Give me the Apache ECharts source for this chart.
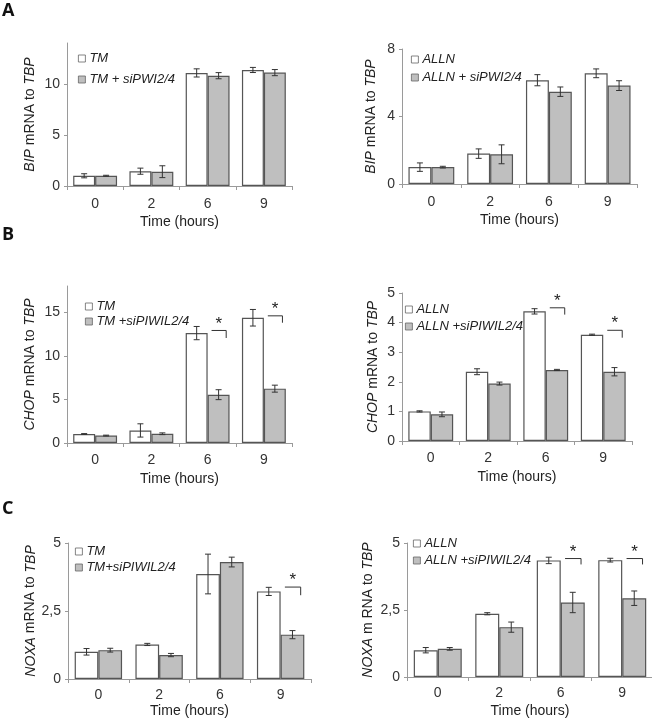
<!DOCTYPE html>
<html>
<head>
<meta charset="utf-8">
<script src="https://cdn.jsdelivr.net/npm/echarts@6/dist/echarts.min.js"></script>
<style>
html,body{margin:0;padding:0;background:#fff;}
#chart{width:652px;height:721px;}
</style>
</head>
<body>
<div id="chart"></div>
<script>
// ---------- data ----------
const categories = ['0', '2', '6', '9'];

// Panel A (BIP)
const bipTMName = 'TM';
const bipTMsiName = 'TM + siPWI2/4';
const bipTM = [1.0, 1.45, 11.07, 11.36];
const bipTMErr = [0.2, 0.3, 0.4, 0.25];
const bipTMsi = [1.0, 1.4, 10.8, 11.1];
const bipTMsiErr = [0.05, 0.58, 0.3, 0.3];

const bipALLNName = 'ALLN';
const bipALLNsiName = 'ALLN + siPWI2/4';
const bipALLN = [1.0, 1.8, 6.15, 6.56];
const bipALLNErr = [0.25, 0.28, 0.33, 0.26];
const bipALLNsi = [1.0, 1.76, 5.47, 5.83];
const bipALLNsiErr = [0.05, 0.56, 0.28, 0.29];

// Panel B (CHOP)
const chopTMName = 'TM';
const chopTMsiName = 'TM +siPIWIL2/4';
const chopTM = [1.03, 1.44, 12.6, 14.36];
const chopTMErr = [0.05, 0.76, 0.76, 0.95];
const chopTMsi = [0.85, 1.06, 5.54, 6.23];
const chopTMsiErr = [0.05, 0.1, 0.57, 0.4];
const chopTMSig = [[2, 12.9, 12.04], [3, 14.58, 13.79]];

const chopALLNName = 'ALLN';
const chopALLNsiName = 'ALLN +siPIWIL2/4';
const chopALLN = [1.0, 2.34, 4.38, 3.59];
const chopALLNErr = [0.02, 0.1, 0.09, 0.02];
const chopALLNsi = [0.9, 1.94, 2.4, 2.34];
const chopALLNsiErr = [0.08, 0.05, 0.02, 0.14];
const chopALLNSig = [[2, 4.5, 4.27], [3, 3.74, 3.49]];

// Panel C (NOXA)
const noxaTMName = 'TM';
const noxaTMsiName = 'TM+siPIWIL2/4';
const noxaTM = [1.0, 1.27, 3.86, 3.22];
const noxaTMErr = [0.12, 0.04, 0.73, 0.15];
const noxaTMsi = [1.06, 0.88, 4.3, 1.63];
const noxaTMsiErr = [0.07, 0.06, 0.18, 0.15];
const noxaTMSig = [[3, 3.38, 3.08]];

const noxaALLNName = 'ALLN';
const noxaALLNsiName = 'ALLN +siPIWIL2/4';
const noxaALLN = [1.0, 2.36, 4.35, 4.36];
const noxaALLNErr = [0.1, 0.04, 0.12, 0.07];
const noxaALLNsi = [1.05, 1.86, 2.78, 2.94];
const noxaALLNsiErr = [0.05, 0.19, 0.38, 0.27];
const noxaALLNSig = [[2, 4.42, 4.2], [3, 4.42, 4.2]];

// y-axis tick labels
const yTicksA1 = [0, 5, 10];
const yTicksA2 = [0, 4, 8];
const yTicksB1 = [0, 5, 10, 15];
const yTicksB2 = [0, 1, 2, 3, 4, 5];
const yTicksC = [0, 2.5, 5];

// ---------- styling / layout ----------
const FONT = '"Liberation Sans", Arial, sans-serif';
const AXIS_COLOR = '#9a9a9a';
const BORDER = '#555';
const WHITE = '#ffffff';
const GRAY = '#bfbfbf';
const ERR_COLOR = '#333';
const BAR_FRAC = 0.39;

const panels = [
  { grid: {left: 67, top: 43, width: 225, height: 143}, max: 14, ticks: yTicksA1, yName: '{i|BIP} mRNA to {i|TBP}', yGap: 30,
    names: [bipTMName, bipTMsiName], vals: [bipTM, bipTMsi], errs: [bipTMErr, bipTMsiErr], sig: [],
    legend: {left: 78, top: 52, itemGap: 8}, xGap: 29, xMargin: 11 },
  { grid: {left: 402, top: 49, width: 235, height: 135}, max: 8, ticks: yTicksA2, yName: '{i|BIP} mRNA to {i|TBP}', yGap: 24,
    names: [bipALLNName, bipALLNsiName], vals: [bipALLN, bipALLNsi], errs: [bipALLNErr, bipALLNsiErr], sig: [],
    legend: {left: 411, top: 53, itemGap: 5}, xGap: 29, xMargin: 11 },
  { grid: {left: 67, top: 286, width: 225, height: 157}, max: 18, ticks: yTicksB1, yName: '{i|CHOP} mRNA to {i|TBP}', yGap: 30,
    names: [chopTMName, chopTMsiName], vals: [chopTM, chopTMsi], errs: [chopTMErr, chopTMsiErr], sig: chopTMSig,
    legend: {left: 85, top: 300, itemGap: 2}, xGap: 29, xMargin: 10 },
  { grid: {left: 402, top: 293, width: 230, height: 148}, max: 5, ticks: yTicksB2, yName: '{i|CHOP} mRNA to {i|TBP}', yGap: 22,
    names: [chopALLNName, chopALLNsiName], vals: [chopALLN, chopALLNsi], errs: [chopALLNErr, chopALLNsiErr], sig: chopALLNSig,
    legend: {left: 405, top: 303, itemGap: 4}, xGap: 29, xMargin: 10 },
  { grid: {left: 68, top: 543, width: 243, height: 136}, max: 5, ticks: yTicksC, yName: '{i|NOXA} mRNA to {i|TBP}', yGap: 21,
    names: [noxaTMName, noxaTMsiName], vals: [noxaTM, noxaTMsi], errs: [noxaTMErr, noxaTMsiErr], sig: noxaTMSig,
    legend: {left: 75, top: 545, itemGap: 3}, xGap: 25, xMargin: 9 },
  { grid: {left: 407, top: 543, width: 246, height: 134}, max: 5, ticks: yTicksC, yName: '{i|NOXA} m RNA to {i|TBP}', yGap: 32,
    names: [noxaALLNName, noxaALLNsiName], vals: [noxaALLN, noxaALLNsi], errs: [noxaALLNErr, noxaALLNsiErr], sig: noxaALLNSig,
    legend: {left: 413, top: 537, itemGap: 4}, xGap: 27, xMargin: 9 }
];

function errRenderer(side) {
  return function (params, api) {
    const lo = api.coord([api.value(0), api.value(1)]);
    const hi = api.coord([api.value(0), api.value(2)]);
    const bw = api.size([1, 0])[0];
    const x = lo[0] + side * bw * BAR_FRAC / 2;
    const cap = 3;
    const st = {stroke: ERR_COLOR, lineWidth: 1};
    return {
      type: 'group',
      children: [
        {type: 'line', shape: {x1: x, y1: lo[1], x2: x, y2: hi[1]}, style: st},
        {type: 'line', shape: {x1: x - cap, y1: lo[1], x2: x + cap, y2: lo[1]}, style: st},
        {type: 'line', shape: {x1: x - cap, y1: hi[1], x2: x + cap, y2: hi[1]}, style: st}
      ]
    };
  };
}

function sigRenderer(params, api) {
  const top = api.coord([api.value(0), api.value(1)]);
  const bot = api.coord([api.value(0), api.value(2)]);
  const bw = api.size([1, 0])[0];
  const x0 = top[0] + bw * 0.07;
  const x1 = top[0] + bw * 0.33;
  return {
    type: 'group',
    children: [
      {type: 'polyline', shape: {points: [[x0, top[1]], [x1, top[1]], [x1, bot[1]]]},
       style: {stroke: '#333', lineWidth: 1, fill: null}},
      {type: 'text', x: (x0 + x1) / 2, y: top[1] + 2,
       style: {text: '*', font: '17px ' + FONT, fill: '#222', align: 'center', verticalAlign: 'bottom'}}
    ]
  };
}

const grids = [], xAxes = [], yAxes = [], series = [], legends = [];

panels.forEach((p, gi) => {
  grids.push(Object.assign({outerBoundsMode: 'none', containLabel: false}, p.grid));
  xAxes.push({
    type: 'category', gridIndex: gi, data: categories,
    name: 'Time (hours)', nameLocation: 'middle', nameGap: p.xGap,
    nameTextStyle: {fontFamily: FONT, fontSize: 14, color: '#222'},
    axisLine: {show: true, lineStyle: {color: AXIS_COLOR, width: 1}},
    axisTick: {show: true, length: 4, lineStyle: {color: AXIS_COLOR}},
    axisLabel: {fontFamily: FONT, fontSize: 14, color: '#333', margin: p.xMargin},
    splitLine: {show: false}
  });
  yAxes.push({
    type: 'value', gridIndex: gi, min: 0, max: p.max,
    name: p.yName, nameLocation: 'middle', nameGap: p.yGap, nameRotate: 90,
    nameTextStyle: {fontFamily: FONT, fontSize: 14, color: '#222',
      rich: {i: {fontFamily: FONT, fontSize: 14, color: '#222', fontStyle: 'italic'}}},
    axisLine: {show: true, lineStyle: {color: AXIS_COLOR, width: 1}},
    axisTick: {show: true, length: 3, customValues: p.ticks, lineStyle: {color: AXIS_COLOR}},
    axisLabel: {fontFamily: FONT, fontSize: 14, color: '#333', margin: 7, customValues: p.ticks,
      formatter: v => String(v).replace('.', ',')},
    splitLine: {show: false}
  });
  const fills = [WHITE, GRAY];
  p.names.forEach((nm, si) => {
    series.push({
      type: 'bar', name: nm, xAxisIndex: gi, yAxisIndex: gi,
      data: p.vals[si], barWidth: (BAR_FRAC * 100) + '%', barGap: '0%',
      itemStyle: {color: fills[si], borderColor: BORDER, borderWidth: 1.2},
      emphasis: {disabled: true}, animation: false
    });
  });
  p.names.forEach((nm, si) => {
    series.push({
      type: 'custom', xAxisIndex: gi, yAxisIndex: gi, z: 5,
      renderItem: errRenderer(si === 0 ? -1 : 1),
      data: p.vals[si].map((m, i) => [i, m - p.errs[si][i], m + p.errs[si][i]]),
      silent: true, animation: false, clip: false
    });
  });
  if (p.sig.length) {
    series.push({
      type: 'custom', xAxisIndex: gi, yAxisIndex: gi, z: 6,
      renderItem: sigRenderer, data: p.sig, silent: true, animation: false, clip: false
    });
  }
  legends.push({
    data: p.names, orient: 'vertical', left: p.legend.left, top: p.legend.top,
    itemGap: p.legend.itemGap, padding: 0, icon: 'rect', itemWidth: 7, itemHeight: 7,
    selectedMode: false,
    itemStyle: {borderColor: '#666', borderWidth: 0.8},
    textStyle: {fontFamily: FONT, fontSize: 13, fontStyle: 'italic', color: '#222', padding: [0, 0, 0, -1]}
  });
});

const chart = echarts.init(document.getElementById('chart'), null, {renderer: 'canvas'});
chart.setOption({
  backgroundColor: '#fff',
  animation: false,
  grid: grids, xAxis: xAxes, yAxis: yAxes, series: series, legend: legends,
  graphic: [
    {type: 'text', left: 2, top: 2, style: {text: 'A', font: 'bold 18px "Open Sans", ' + FONT, fill: '#111'}},
    {type: 'text', left: 2, top: 226, style: {text: 'B', font: 'bold 18px "Open Sans", ' + FONT, fill: '#111'}},
    {type: 'text', left: 2, top: 500, style: {text: 'C', font: 'bold 18px "Open Sans", ' + FONT, fill: '#111'}}
  ]
});
</script>
</body>
</html>
